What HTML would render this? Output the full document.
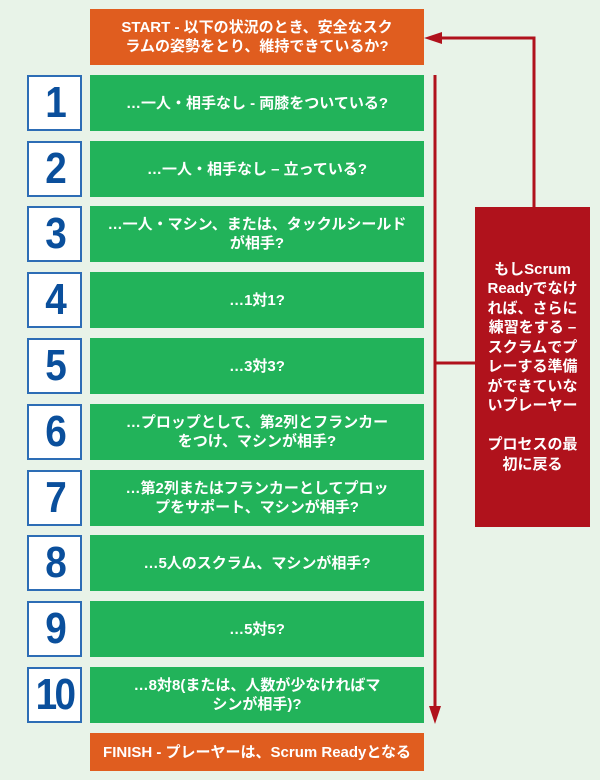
<!DOCTYPE html>
<html><head><meta charset="utf-8"><style>
body{margin:0;width:600px;height:780px;background:#e8f3e8;position:relative;overflow:hidden;font-family:"Liberation Sans","Noto Sans CJK JP",sans-serif;font-weight:bold;}
.b{position:absolute;display:flex;align-items:center;justify-content:center;text-align:center;color:#fff;box-sizing:border-box;}
.o{background:#e05d1f;left:90px;width:334px;font-size:15px;line-height:19px;}
.g{background:#22b35a;left:90px;width:334px;height:56px;font-size:15px;line-height:19px;padding:0 8px;}
.n{left:27px;width:55px;height:56px;background:#fff;border:2px solid #2d6db5;color:#0a4f9c;font-size:44px;}
.n span{display:inline-block;transform:scaleX(0.88);letter-spacing:-3px;}
.r{background:#b0121c;left:475px;top:207px;width:115px;height:320px;font-size:15px;line-height:19.5px;padding:0 4px;}
</style></head><body>
<div class="b o" style="top:9px;height:56px;">START - 以下の状況のとき、安全なスク<br>ラムの姿勢をとり、維持できているか?</div>

<div class="b n" style="top:75px"><span>1</span></div><div class="b g" style="top:75px">…一人・相手なし - 両膝をついている?</div>
<div class="b n" style="top:141px"><span>2</span></div><div class="b g" style="top:141px">…一人・相手なし – 立っている?</div>
<div class="b n" style="top:206px"><span>3</span></div><div class="b g" style="top:206px">…一人・マシン、または、タックルシールド<br>が相手?</div>
<div class="b n" style="top:272px"><span>4</span></div><div class="b g" style="top:272px">…1対1?</div>
<div class="b n" style="top:338px"><span>5</span></div><div class="b g" style="top:338px">…3対3?</div>
<div class="b n" style="top:404px"><span>6</span></div><div class="b g" style="top:404px">…プロップとして、第2列とフランカー<br>をつけ、マシンが相手?</div>
<div class="b n" style="top:470px"><span>7</span></div><div class="b g" style="top:470px">…第2列またはフランカーとしてプロッ<br>プをサポート、マシンが相手?</div>
<div class="b n" style="top:535px"><span>8</span></div><div class="b g" style="top:535px">…5人のスクラム、マシンが相手?</div>
<div class="b n" style="top:601px"><span>9</span></div><div class="b g" style="top:601px">…5対5?</div>
<div class="b n" style="top:667px"><span>10</span></div><div class="b g" style="top:667px">…8対8(または、人数が少なければマ<br>シンが相手)?</div>

<div class="b o" style="top:733px;height:38px;">FINISH - プレーヤーは、Scrum Readyとなる</div>

<div class="b r">もしScrum<br>Readyでなけ<br>れば、さらに<br>練習をする –<br>スクラムでプ<br>レーする準備<br>ができていな<br>いプレーヤー<br><br>プロセスの最<br>初に戻る</div>

<svg width="600" height="780" style="position:absolute;left:0;top:0" fill="none">
<g stroke="#b0121c" stroke-width="3">
<path d="M435 75 V708"/>
<path d="M435 363 H475"/>
<path d="M534 207 V38 H436"/>
</g>
<polygon points="429,706 441,706 435,724" fill="#b0121c"/>
<polygon points="424,38 442,32 442,44" fill="#b0121c"/>
</svg>
</body></html>
